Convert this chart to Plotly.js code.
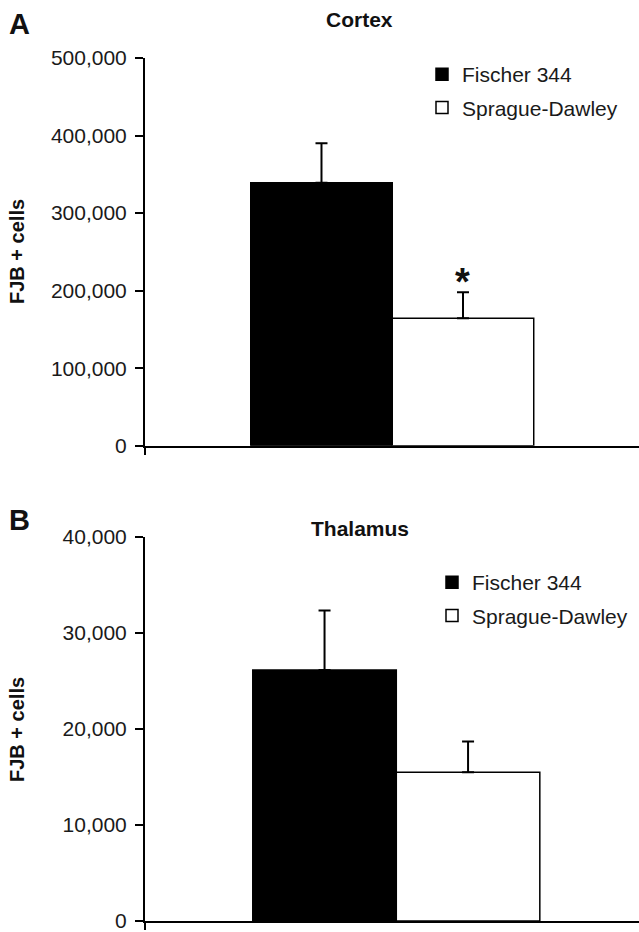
<!DOCTYPE html>
<html>
<head>
<meta charset="utf-8">
<script src="https://cdn.plot.ly/plotly-3.0.1.min.js"></script>
<style>
html,body{margin:0;padding:0;background:#fff;}
#chart{width:639px;height:932px;}
</style>
</head>
<body>
<div id="chart"></div>
<script>
// ---- data ----
const strains = ["Fischer 344", "Sprague-Dawley"];
const barColors = ["#000000", "#ffffff"];
const cortexMean = [339000, 164500];
const cortexErr = [51000, 33500];
const thalamusMean = [26150, 15500];
const thalamusErr = [6200, 3200];
const cortexTicks = [0, 100000, 200000, 300000, 400000, 500000];
const thalamusTicks = [0, 10000, 20000, 30000, 40000];
const panelTitles = ["Cortex", "Thalamus"];
const panelLetters = ["A", "B"];
const yTitle = "FJB + cells";

const W = 639, H = 932;
const FONT = "Liberation Sans, Arial, Helvetica, sans-serif";
const px = v => v / W;
const py = v => 1 - v / H;

const traces = [];
function addPanel(means, errs, xa, ya, legendName) {
  strains.forEach((s, i) => {
    traces.push({
      type: "bar",
      name: s,
      x: [i + 1],
      y: [means[i]],
      width: 1,
      xaxis: xa,
      yaxis: ya,
      legend: legendName,
      legendgroup: legendName + s,
      marker: {color: barColors[i], line: {color: "#000", width: 1.5}},
      error_y: {
        type: "data", symmetric: false,
        array: [errs[i]], arrayminus: [0],
        color: "#000", thickness: 2, width: 6
      },
      hoverinfo: "skip"
    });
  });
}
addPanel(cortexMean, cortexErr, "x", "y", "legend");
addPanel(thalamusMean, thalamusErr, "x2", "y2", "legend2");

const xCommon = {
  showline: true, linecolor: "#000", linewidth: 2,
  showgrid: false, zeroline: false,
  ticks: "outside", ticklen: 7, tickwidth: 2, tickcolor: "#000",
  showticklabels: false, fixedrange: true
};
const yCommon = {
  showline: true, linecolor: "#000", linewidth: 2,
  showgrid: false, zeroline: false,
  ticks: "outside", ticklen: 8, tickwidth: 2, tickcolor: "#000",
  tickformat: ",d", ticklabelstandoff: 4, ticklabeloverflow: "allow",
  tickfont: {family: FONT, size: 21, color: "#1a1a1a"},
  fixedrange: true
};

const rangeA = [-0.2473, 3.244];
const rangeB = [-0.2509, 3.191];

const layout = {
  width: W, height: H,
  margin: {l: 0, r: 0, t: 0, b: 0},
  paper_bgcolor: "#fff", plot_bgcolor: "rgba(0,0,0,0)",
  barmode: "overlay",
  showlegend: true,
  font: {family: FONT, color: "#1a1a1a"},
  xaxis: Object.assign({}, xCommon, {domain: [px(145), 1], range: rangeA, anchor: "y", tickvals: [rangeA[0]]}),
  yaxis: Object.assign({}, yCommon, {domain: [py(445.7), py(58)], range: [0, 500000], tickvals: cortexTicks, anchor: "x"}),
  xaxis2: Object.assign({}, xCommon, {domain: [px(145), 1], range: rangeB, anchor: "y2", tickvals: [rangeB[0]]}),
  yaxis2: Object.assign({}, yCommon, {domain: [py(921), py(537)], range: [0, 40000], tickvals: thalamusTicks, anchor: "x2"}),
  legend: {
    x: px(422), xanchor: "left", y: py(54), yanchor: "top",
    font: {family: FONT, size: 21, color: "#1a1a1a"},
    bgcolor: "rgba(0,0,0,0)", traceorder: "grouped", tracegroupgap: 3
  },
  legend2: {
    x: px(432), xanchor: "left", y: py(562), yanchor: "top",
    font: {family: FONT, size: 21, color: "#1a1a1a"},
    bgcolor: "rgba(0,0,0,0)", traceorder: "grouped", tracegroupgap: 3
  },
  annotations: [
    {text: "<b>" + panelLetters[0] + "</b>", xref: "paper", yref: "paper", x: px(7), y: py(24), xanchor: "left", yanchor: "middle", showarrow: false, font: {family: FONT, size: 29, color: "#111"}},
    {text: "<b>" + panelLetters[1] + "</b>", xref: "paper", yref: "paper", x: px(7), y: py(520), xanchor: "left", yanchor: "middle", showarrow: false, font: {family: FONT, size: 29, color: "#111"}},
    {text: "<b>" + panelTitles[0] + "</b>", xref: "paper", yref: "paper", x: px(359), y: py(19), xanchor: "center", yanchor: "middle", showarrow: false, font: {family: FONT, size: 21, color: "#111"}},
    {text: "<b>" + panelTitles[1] + "</b>", xref: "paper", yref: "paper", x: px(360), y: py(528), xanchor: "center", yanchor: "middle", showarrow: false, font: {family: FONT, size: 21, color: "#111"}},
    {text: "<b>" + yTitle + "</b>", xref: "paper", yref: "paper", x: px(17), y: py(252), xanchor: "center", yanchor: "middle", textangle: -90, showarrow: false, font: {family: FONT, size: 20, color: "#111"}},
    {text: "<b>" + yTitle + "</b>", xref: "paper", yref: "paper", x: px(17), y: py(730), xanchor: "center", yanchor: "middle", textangle: -90, showarrow: false, font: {family: FONT, size: 20, color: "#111"}},
    {text: "<b>*</b>", xref: "x", yref: "y", x: 2, y: cortexMean[1] + cortexErr[1], xanchor: "center", yanchor: "middle", yshift: 10, showarrow: false, font: {family: FONT, size: 38, color: "#111"}}
  ]
};

Plotly.newPlot("chart", traces, layout, {staticPlot: true, displayModeBar: false});
</script>
</body>
</html>
